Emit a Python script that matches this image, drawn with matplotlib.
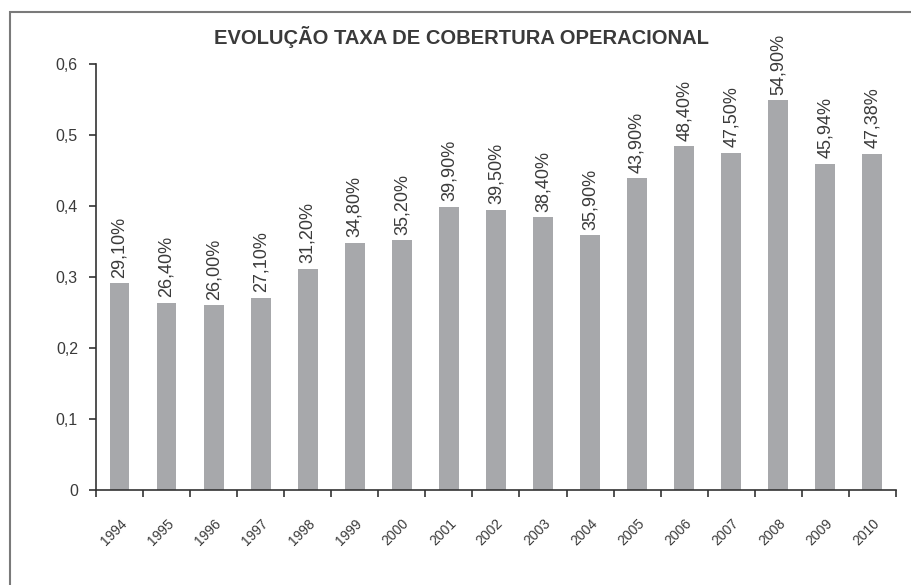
import numpy as np
import matplotlib.pyplot as plt
from matplotlib.patches import Rectangle

plt.rcParams['font.family'] = ['Liberation Sans', 'DejaVu Sans']

# Data
anos = ["1994", "1995", "1996", "1997", "1998", "1999", "2000", "2001", "2002",
        "2003", "2004", "2005", "2006", "2007", "2008", "2009", "2010"]
taxa = [0.291, 0.264, 0.260, 0.271, 0.312, 0.348, 0.352, 0.399, 0.395,
        0.384, 0.359, 0.439, 0.484, 0.475, 0.549, 0.4594, 0.4738]
rotulos = ["29,10%", "26,40%", "26,00%", "27,10%", "31,20%", "34,80%", "35,20%",
           "39,90%", "39,50%", "38,40%", "35,90%", "43,90%", "48,40%", "47,50%",
           "54,90%", "45,94%", "47,38%"]

texto = "#3a3a3a"
cinza = "#a7a8ab"

fig = plt.figure(figsize=(9.11, 5.85), dpi=100)
ax = fig.add_axes([0.1054, 0.1624, 0.878, 0.728])

# Frame around the chart
fig.patches.append(Rectangle((0.011, -0.05), 1.2, 1.0295, transform=fig.transFigure,
                             fill=False, edgecolor="#7a7a7a", linewidth=1.5))

x = np.arange(len(anos))
ax.bar(x, taxa, width=0.42, color=cinza, zorder=2)

# Value labels
for xi, v, r in zip(x, taxa, rotulos):
    ax.annotate(r, (xi, v), xytext=(0, 4), textcoords="offset points",
                rotation=90, ha="center", va="bottom", fontsize=13, color=texto)

ax.set_xlim(-0.5, len(anos) - 0.5)
ax.set_ylim(0, 0.6)

# y axis
ax.set_yticks([0, 0.1, 0.2, 0.3, 0.4, 0.5, 0.6])
ax.set_yticklabels(["0", "0,1", "0,2", "0,3", "0,4", "0,5", "0,6"])
ax.tick_params(axis="y", direction="out", length=5, width=1.2, colors="#333333",
               labelsize=11.5, labelcolor=texto, pad=8)

# x axis: ticks at boundaries, labels at centers
ax.set_xticks(x)
ax.set_xticklabels(anos, rotation=45, ha="right", va="top", rotation_mode="anchor",
                   fontsize=10, color=texto)
ax.tick_params(axis="x", which="major", length=0, pad=19)
ax.set_xticks(np.arange(len(anos) + 1) - 0.5, minor=True)
ax.tick_params(axis="x", which="minor", direction="out", length=5, width=1.2,
               colors="#333333")

for s in ["top", "right"]:
    ax.spines[s].set_visible(False)
for s in ["left", "bottom"]:
    ax.spines[s].set_color("#333333")
    ax.spines[s].set_linewidth(1.2)

fig.text(0.507, 0.937, "EVOLUÇÃO TAXA DE COBERTURA OPERACIONAL", ha="center",
         va="center", fontsize=14.5, fontweight="bold", color=texto)

fig.savefig("out.png", dpi=100)
